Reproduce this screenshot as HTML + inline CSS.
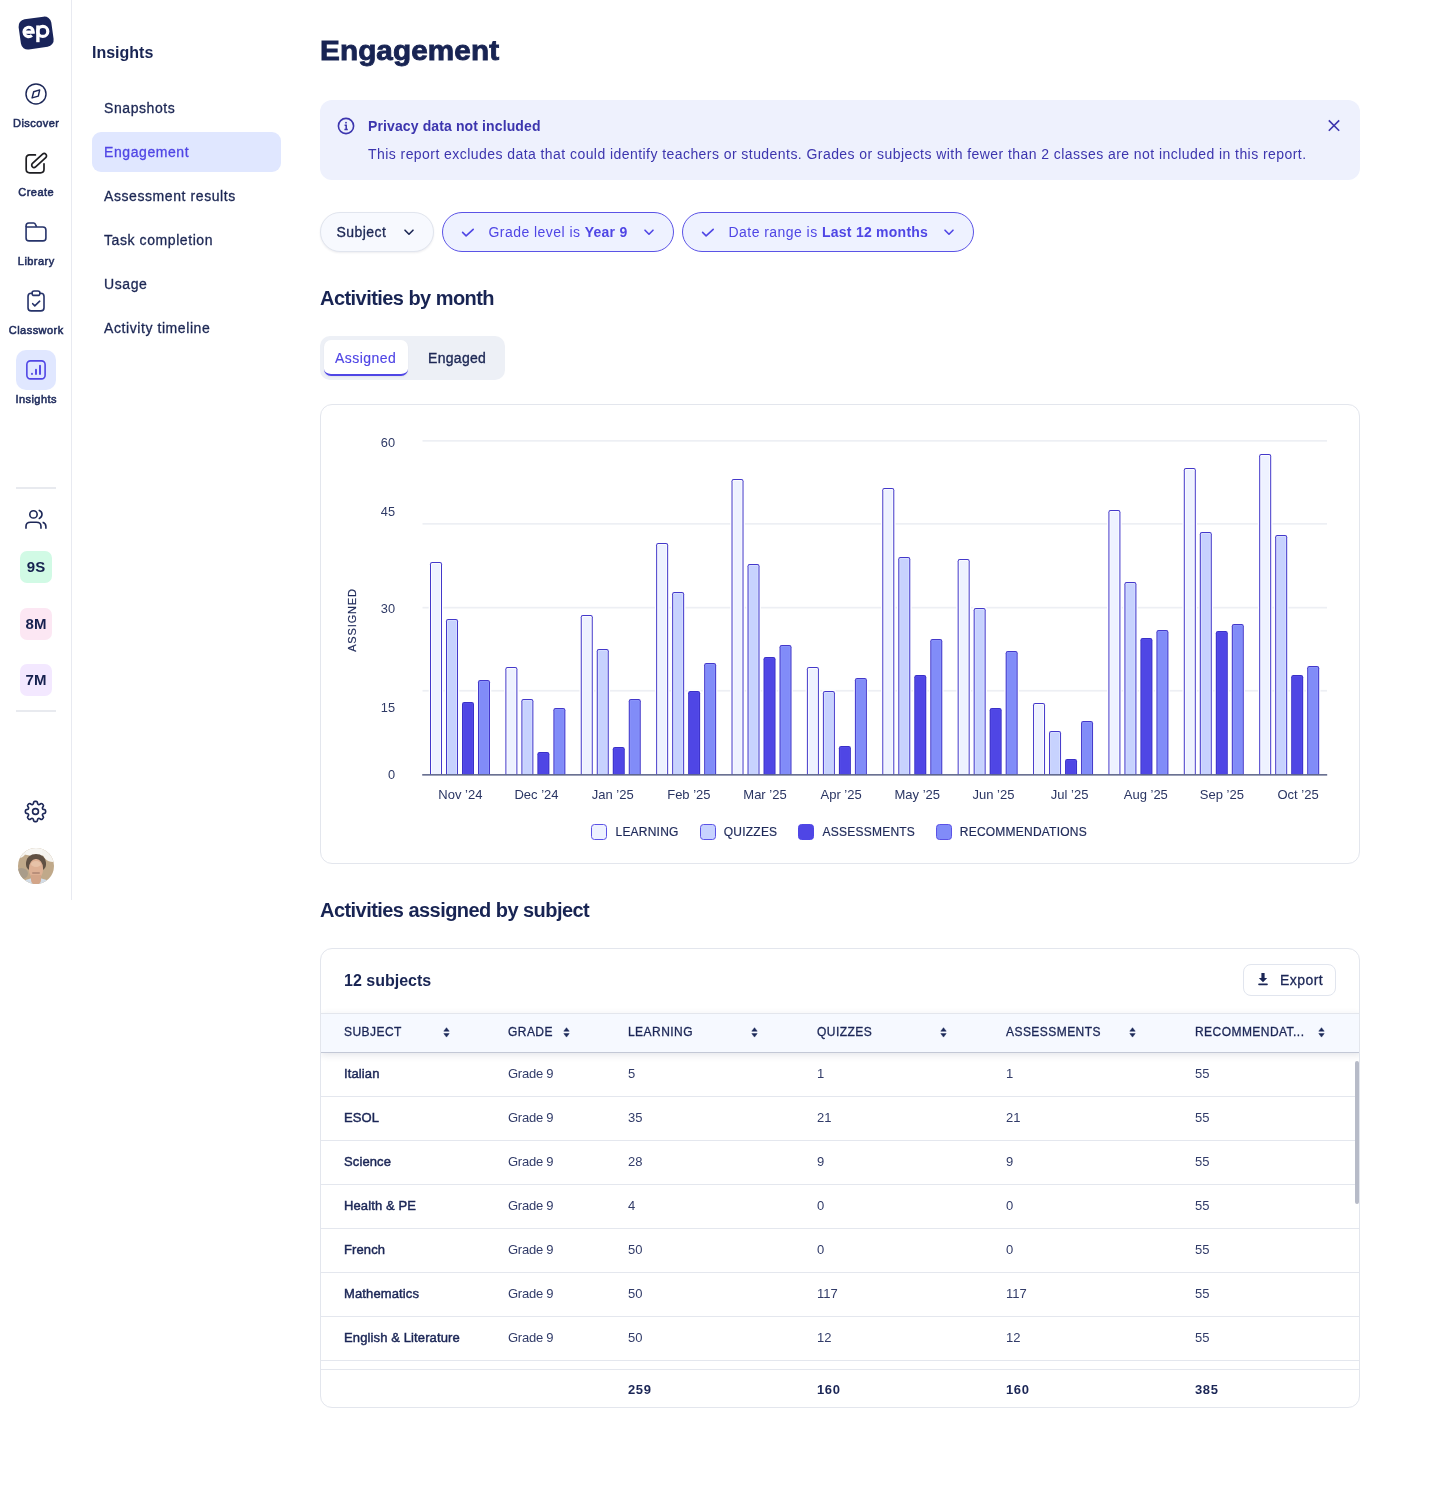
<!DOCTYPE html>
<html><head><meta charset="utf-8">
<style>
*{box-sizing:border-box;margin:0;padding:0}
html,body{width:1440px;height:1508px;background:#fff;overflow:hidden}
body{will-change:transform}
body{font-family:"Liberation Sans",sans-serif;color:#182453;position:relative}
.a{position:absolute}
.nl{position:absolute;left:0;width:72px;text-align:center;font-size:11px;letter-spacing:0.45px;text-indent:0.45px;color:#1f2b5c;line-height:14px;-webkit-text-stroke:0.55px #1f2b5c}
.sub{position:absolute;left:104px;font-size:14px;letter-spacing:0.58px;color:#1c2754;line-height:20px;-webkit-text-stroke:0.3px currentColor}
.h2{position:absolute;left:320px;font-size:20px;font-weight:700;letter-spacing:-0.55px;color:#182453;line-height:24px}
.pill{position:absolute;top:212px;height:40px;border-radius:20px;font-size:14px;letter-spacing:0.45px;line-height:38px;white-space:nowrap}
.pill b{letter-spacing:0.25px}
.yl{position:absolute;left:360px;width:35px;text-align:right;font-size:12.8px;color:#2f3a66;line-height:14px}
.xl{position:absolute;top:787.6px;width:80px;text-align:center;font-size:13px;color:#2a3563;line-height:14px}
.lg{position:absolute;top:824px;width:16px;height:16px;border-radius:3.5px;border:1px solid #5B52E6}
.lt{position:absolute;top:825px;font-size:12px;letter-spacing:0.22px;color:#1f2a5a;-webkit-text-stroke:0.2px #1f2a5a;line-height:14px}
.th{position:absolute;top:1025px;font-size:12px;letter-spacing:0.45px;color:#1b2656;-webkit-text-stroke:0.3px #1b2656;line-height:14px}
.td{font-size:13px;line-height:44px;color:#323c69;white-space:nowrap}
.td.b{color:#1b2656;letter-spacing:0.12px;-webkit-text-stroke:0.45px #1b2656}
.tf{position:absolute;top:1382.5px;font-size:13px;font-weight:700;letter-spacing:0.6px;color:#1b2656;line-height:14px}
</style></head><body>

<!-- ===== left nav ===== -->
<div class="a" style="left:71px;top:0;width:1px;height:900px;background:#E8EAF1"></div>
<!-- logo -->
<svg class="a" style="left:0;top:0" width="72" height="60" viewBox="0 0 72 60"><rect x="19.6" y="17.8" width="33" height="30.5" rx="7" fill="#19245A" transform="rotate(-8 36.1 33)"/><g fill="none" stroke="#fff"><path d="M24.1 32.1H33.3A4.7 4.7 0 1 0 31.9 35.3" stroke-width="3.1"/><path d="M24.5 32.1H33.2" stroke-width="2.2"/><circle cx="42.8" cy="31.4" r="5.0" stroke-width="3.2"/><path d="M37.9 25.4V42.2" stroke-width="3.4"/></g></svg>
<!-- discover -->
<svg class="a" style="left:24px;top:82px" width="24" height="24" viewBox="0 0 24 24" fill="none" stroke="#1c2757" stroke-width="1.45" stroke-linejoin="round"><circle cx="12" cy="11.9" r="10"/><path d="M9.7 9.7L15.7 7.9L14.3 14.1L8.1 15.9Z"/></svg>
<div class="nl" style="top:116px">Discover</div>
<!-- create -->
<svg class="a" style="left:24px;top:151px" width="24" height="24" viewBox="0 0 24 24" fill="none" stroke="#1e1e22" stroke-width="1.7" stroke-linecap="round" stroke-linejoin="round"><path d="M11.4 3.93H5.7Q2.18 3.93 2.18 7.4V18.3Q2.18 21.8 5.7 21.8H16.5Q20 21.8 20 18.3V12.8"/><rect x="-9.2" y="-2.34" width="18.4" height="4.68" rx="2.34" transform="translate(15.1 9.5) rotate(-42.5)"/></svg>
<div class="nl" style="top:185px">Create</div>
<!-- library -->
<svg class="a" style="left:24px;top:220px" width="24" height="24" viewBox="0 0 24 24" fill="none" stroke="#26336a" stroke-width="1.6" stroke-linejoin="round"><path d="M2.08 6.94V5.8Q2.08 3.06 4.8 3.06H9.6Q10.9 3.06 11.4 4.3L12.6 6.94"/><path d="M2.08 6.94H18.9Q21.9 6.94 21.9 9.94V17.9Q21.9 20.9 18.9 20.9H5.1Q2.08 20.9 2.08 17.9Z"/></svg>
<div class="nl" style="top:254px">Library</div>
<!-- classwork -->
<svg class="a" style="left:24px;top:289px" width="24" height="24" viewBox="0 0 24 24" fill="none" stroke="#26336a" stroke-width="1.6" stroke-linecap="round" stroke-linejoin="round"><path d="M8.1 4.2H7.2Q4.03 4.2 4.03 7.4V18.7Q4.03 21.9 7.2 21.9H16.8Q20 21.9 20 18.7V7.4Q20 4.2 16.8 4.2H15.9"/><rect x="8.1" y="2" width="7.8" height="4.4" rx="2"/><path d="M8.7 14.7L10.8 16.9L15.7 12.2"/></svg>
<div class="nl" style="top:323px">Classwork</div>
<!-- insights -->
<div class="a" style="left:16px;top:350px;width:40px;height:40px;border-radius:10px;background:#E0E7FF"></div>
<svg class="a" style="left:24px;top:358px" width="24" height="24" viewBox="0 0 24 24" fill="none" stroke="#5046E5" stroke-width="1.6" stroke-linecap="round"><rect x="2.86" y="2.86" width="18.24" height="18.04" rx="3.6"/><path d="M8 15.7V16M12 11.8V16M16 7.8V16" stroke-width="1.9"/></svg>
<div class="nl" style="top:392px">Insights</div>

<div class="a" style="left:16px;top:487px;width:40px;height:2px;background:#E8EAEF"></div>
<!-- users -->
<svg class="a" style="left:24px;top:507px" width="24" height="24" viewBox="0 0 24 24" fill="none" stroke="#1c2757" stroke-width="1.6" stroke-linecap="round"><circle cx="9.47" cy="7.38" r="3.67"/><path d="M1.99 21.7V19.3C1.99 17 3.9 15.3 6.6 15.3H12.4C15.1 15.3 16.96 17 16.96 19.3V21.7" stroke-linecap="butt"/><path d="M15.3 3.44C17 4.0 18.0 5.5 18.0 7.35C18.0 9.2 17 10.7 15.3 11.4"/><path d="M18.6 15.3C20.6 16.0 21.9 17.6 21.9 19.6V21.7" stroke-linecap="butt"/></svg>
<div class="a" style="left:20px;top:551px;width:32px;height:32px;border-radius:7px;background:#D1FAE5;font-size:15px;font-weight:700;line-height:32px;text-align:center;color:#16214f">9S</div>
<div class="a" style="left:20px;top:607.5px;width:32px;height:32px;border-radius:7px;background:#FCE7F3;font-size:15px;font-weight:700;line-height:32px;text-align:center;color:#16214f">8M</div>
<div class="a" style="left:20px;top:663.5px;width:32px;height:32px;border-radius:7px;background:#F3E8FF;font-size:15px;font-weight:700;line-height:32px;text-align:center;color:#16214f">7M</div>
<div class="a" style="left:16px;top:710px;width:40px;height:2px;background:#E8EAEF"></div>

<!-- gear -->
<svg class="a" style="left:22px;top:797.9px" width="27" height="27" viewBox="0 0 24 24" fill="none" stroke="#1c2757" stroke-width="1.45" stroke-linecap="round" stroke-linejoin="round"><path d="M10.343 3.94c.09-.542.56-.94 1.11-.94h1.093c.55 0 1.02.398 1.11.94l.149.894c.07.424.384.764.78.93.398.164.855.142 1.205-.108l.737-.527a1.125 1.125 0 0 1 1.45.12l.773.774c.39.389.44 1.002.12 1.45l-.527.737c-.25.35-.272.806-.107 1.204.165.397.505.71.93.78l.893.15c.543.09.94.559.94 1.109v1.094c0 .55-.397 1.02-.94 1.11l-.894.149c-.424.07-.764.383-.929.78-.165.398-.143.854.107 1.204l.527.738c.32.447.269 1.06-.12 1.45l-.774.773a1.125 1.125 0 0 1-1.449.12l-.738-.527c-.35-.25-.806-.272-1.203-.107-.398.165-.71.505-.781.929l-.149.894c-.09.542-.56.94-1.11.94h-1.094c-.55 0-1.019-.398-1.11-.94l-.148-.894c-.071-.424-.384-.764-.781-.93-.398-.164-.854-.142-1.204.108l-.738.527c-.447.32-1.06.269-1.45-.12l-.773-.774a1.125 1.125 0 0 1-.12-1.45l.527-.737c.25-.35.272-.806.108-1.204-.165-.397-.506-.71-.93-.78l-.894-.15c-.542-.09-.94-.56-.94-1.109v-1.094c0-.55.398-1.02.94-1.11l.894-.149c.424-.07.765-.383.93-.78.165-.398.143-.854-.108-1.204l-.526-.738a1.125 1.125 0 0 1 .12-1.45l.773-.773a1.125 1.125 0 0 1 1.45-.12l.737.527c.35.25.807.272 1.204.107.397-.165.71-.505.78-.929l.15-.894Z"/><path d="M14.6 12a2.6 2.6 0 1 1-5.2 0 2.6 2.6 0 0 1 5.2 0Z"/></svg>
<!-- avatar -->
<div class="a" style="left:18px;top:848px;width:36px;height:36px;border-radius:50%;overflow:hidden;background:#c0a98a"><div class="a" style="left:0;top:0;width:36px;height:36px;filter:blur(0.7px)">
 <div class="a" style="left:-6px;top:-16px;width:48px;height:24px;border-radius:50%;background:#f7f6f3"></div>
 <div class="a" style="left:24px;top:-8px;width:22px;height:22px;border-radius:50%;background:#f5f3ef"></div>
 <div class="a" style="left:-6px;top:-4px;width:14px;height:14px;border-radius:50%;background:#f5f3ef"></div>
 <div class="a" style="left:-3px;top:20px;width:13px;height:11px;border-radius:50%;background:#a99c8a"></div>
 <div class="a" style="left:8px;top:5.5px;width:20px;height:17px;border-radius:50% 50% 35% 35%;background:#5f5043"></div>
 <div class="a" style="left:10.5px;top:11px;width:14.5px;height:20px;border-radius:45% 45% 45% 45%;background:#ddb094"></div>
 <div class="a" style="left:12.5px;top:13px;width:10px;height:6px;border-radius:50%;background:#e6c2a8"></div>
 <div class="a" style="left:13.5px;top:24px;width:8px;height:1.6px;border-radius:1px;background:#b98f7a"></div>
 <div class="a" style="left:4px;top:30px;width:28px;height:12px;border-radius:50% 50% 0 0;background:#d2dce6"></div>
 <div class="a" style="left:12.5px;top:27px;width:10px;height:10px;border-radius:0 0 50% 50%;background:#d3a589"></div>
</div></div>

<!-- ===== sub nav ===== -->
<div class="a" style="left:92px;top:44px;font-size:16px;font-weight:700;color:#182453;line-height:18px">Insights</div>
<div class="a" style="left:92px;top:132px;width:189px;height:40px;border-radius:9px;background:#E0E7FF"></div>
<div class="sub" style="top:98px">Snapshots</div>
<div class="sub" style="top:142px;color:#5046E5">Engagement</div>
<div class="sub" style="top:186px">Assessment results</div>
<div class="sub" style="top:230px">Task completion</div>
<div class="sub" style="top:274px">Usage</div>
<div class="sub" style="top:318px">Activity timeline</div>

<!-- ===== main ===== -->
<div class="a" style="left:320px;top:35px;font-size:28px;font-weight:700;letter-spacing:0.1px;color:#182453;line-height:32px;-webkit-text-stroke:0.9px #182453;transform:scaleX(1.06);transform-origin:0 0">Engagement</div>

<!-- banner -->
<div class="a" style="left:320px;top:100px;width:1040px;height:80px;border-radius:12px;background:#EEF1FD"></div>
<svg class="a" style="left:336px;top:116px" width="20" height="20" viewBox="0 0 20 20" fill="none" stroke="#3C35AE" stroke-width="1.6"><circle cx="10" cy="10" r="7.6"/><path d="M8.6 9.2H10.2V13.6M8.4 13.6H11.8" stroke-width="1.5"/><circle cx="10" cy="6.7" r="0.9" fill="#3C35AE" stroke="none"/></svg>
<div class="a" style="left:368px;top:117px;font-size:14px;font-weight:700;letter-spacing:0.12px;color:#3C35AE;line-height:18px">Privacy data not included</div>
<div class="a" style="left:368px;top:145px;font-size:14px;letter-spacing:0.44px;color:#3C35AE;line-height:18px;white-space:nowrap">This report excludes data that could identify teachers or students. Grades or subjects with fewer than 2 classes are not included in this report.</div>
<svg class="a" style="left:1326px;top:118px" width="16" height="16" viewBox="0 0 16 16" stroke="#3C35AE" stroke-width="1.6"><path d="M2.8 2.4L13.2 12.8M13.2 2.4L2.8 12.8"/></svg>

<!-- pills -->
<div class="pill" style="left:320px;width:114px;border:1px solid #E1E5EE;background:#F7F9FE;box-shadow:0 1px 2px rgba(20,30,70,0.08);color:#1c2754;padding-left:15.5px;-webkit-text-stroke:0.3px #1c2754">Subject</div>
<svg class="a" style="left:402.5px;top:226px" width="12" height="12" viewBox="0 0 12 12" fill="none" stroke="#1c2754" stroke-width="1.6" stroke-linecap="round" stroke-linejoin="round"><path d="M2 4.2L6 8.2L10 4.2"/></svg>

<div class="pill" style="left:442px;width:232px;border:1px solid #5B53E6;background:#EEF2FF;color:#4F46E5;padding-left:45.5px">Grade level is <b>Year 9</b></div>
<svg class="a" style="left:460px;top:225px" width="16" height="16" viewBox="0 0 16 16" fill="none" stroke="#4F46E5" stroke-width="1.6" stroke-linecap="round" stroke-linejoin="round"><path d="M2.6 7.4L6.1 10.9L13.2 4.3"/></svg>
<svg class="a" style="left:642.5px;top:226px" width="12" height="12" viewBox="0 0 12 12" fill="none" stroke="#4F46E5" stroke-width="1.6" stroke-linecap="round" stroke-linejoin="round"><path d="M2 4.2L6 8.2L10 4.2"/></svg>

<div class="pill" style="left:682px;width:292px;border:1px solid #5B53E6;background:#EEF2FF;color:#4F46E5;padding-left:45.5px">Date range is <b>Last 12 months</b></div>
<svg class="a" style="left:700px;top:225px" width="16" height="16" viewBox="0 0 16 16" fill="none" stroke="#4F46E5" stroke-width="1.6" stroke-linecap="round" stroke-linejoin="round"><path d="M2.6 7.4L6.1 10.9L13.2 4.3"/></svg>
<svg class="a" style="left:942.5px;top:226px" width="12" height="12" viewBox="0 0 12 12" fill="none" stroke="#4F46E5" stroke-width="1.6" stroke-linecap="round" stroke-linejoin="round"><path d="M2 4.2L6 8.2L10 4.2"/></svg>

<!-- Activities by month -->
<div class="h2" style="top:286px">Activities by month</div>
<div class="a" style="left:320px;top:336px;width:185px;height:44px;border-radius:10px;background:#EDF0F6"></div>
<div class="a" style="left:324px;top:340px;width:84px;height:36px;border-radius:7px;background:#fff;border-bottom:2px solid #4F46E5;box-shadow:0 1px 2px rgba(20,30,70,0.06)"></div>
<div class="a" style="left:335px;top:349px;font-size:14px;letter-spacing:0.45px;color:#5046E5;line-height:18px;-webkit-text-stroke:0.15px #5046E5">Assigned</div>
<div class="a" style="left:428px;top:349px;font-size:14px;letter-spacing:0.3px;color:#1c2754;line-height:18px;-webkit-text-stroke:0.35px #1c2754">Engaged</div>

<!-- chart card -->
<div class="a" style="left:320px;top:404px;width:1040px;height:460px;border-radius:12px;border:1px solid #E3E6ED"></div>
<div class="yl" style="top:435.5px">60</div>
<div class="yl" style="top:505px">45</div>
<div class="yl" style="top:602px">30</div>
<div class="yl" style="top:700.5px">15</div>
<div class="yl" style="top:768px">0</div>
<div class="a" style="left:320px;top:613px;width:64px;height:14px;transform:rotate(-90deg);font-size:11px;letter-spacing:0.85px;color:#1f2a5a;-webkit-text-stroke:0.2px #1f2a5a;line-height:14px;text-align:center">ASSIGNED</div>
<svg class="a" style="left:0;top:0" width="1440" height="900" viewBox="0 0 1440 900"><rect x="422.5" y="440.0" width="904.5" height="1.7" fill="#EDEFF4"/><rect x="422.5" y="523.0" width="904.5" height="1.7" fill="#EDEFF4"/><rect x="422.5" y="606.8" width="904.5" height="1.7" fill="#EDEFF4"/><rect x="422.5" y="689.9" width="904.5" height="1.7" fill="#EDEFF4"/><rect x="428.70" y="561.00" width="14.6" height="212.60" rx="2" fill="#fff"/><path d="M430.00,774.6 V564.20 Q430.00,562.00 432.20,562.00 H439.80 Q442.00,562.00 442.00,564.20 V774.6 Z" fill="#4338CA"/><path d="M431.00,774.6 V564.20 Q431.00,563.00 432.20,563.00 H439.80 Q441.00,563.00 441.00,564.20 V774.6 Z" fill="#FBFCFF"/><rect x="432.00" y="564.00" width="8" height="210.60" fill="#EEF2FF"/><rect x="444.70" y="618.00" width="14.6" height="155.60" rx="2" fill="#fff"/><path d="M446.00,774.6 V621.20 Q446.00,619.00 448.20,619.00 H455.80 Q458.00,619.00 458.00,621.20 V774.6 Z" fill="#4338CA"/><path d="M447.00,774.6 V621.20 Q447.00,620.00 448.20,620.00 H455.80 Q457.00,620.00 457.00,621.20 V774.6 Z" fill="#D6DEFF"/><rect x="448.00" y="621.00" width="8" height="153.60" fill="#C7D2FE"/><rect x="460.70" y="701.00" width="14.6" height="72.60" rx="2" fill="#fff"/><path d="M462.00,774.6 V704.20 Q462.00,702.00 464.20,702.00 H471.80 Q474.00,702.00 474.00,704.20 V774.6 Z" fill="#3A30C8"/><path d="M463.00,774.6 V704.20 Q463.00,703.00 464.20,703.00 H471.80 Q473.00,703.00 473.00,704.20 V774.6 Z" fill="#544BE7"/><rect x="464.00" y="704.00" width="8" height="70.60" fill="#4F46E5"/><rect x="476.70" y="679.00" width="14.6" height="94.60" rx="2" fill="#fff"/><path d="M478.00,774.6 V682.20 Q478.00,680.00 480.20,680.00 H487.80 Q490.00,680.00 490.00,682.20 V774.6 Z" fill="#4338CA"/><path d="M479.00,774.6 V682.20 Q479.00,681.00 480.20,681.00 H487.80 Q489.00,681.00 489.00,682.20 V774.6 Z" fill="#8A94F9"/><rect x="480.00" y="682.00" width="8" height="92.60" fill="#818CF8"/><rect x="504.08" y="666.00" width="14.6" height="107.60" rx="2" fill="#fff"/><path d="M505.38,774.6 V669.20 Q505.38,667.00 507.58,667.00 H515.18 Q517.38,667.00 517.38,669.20 V774.6 Z" fill="#4338CA"/><path d="M506.38,774.6 V669.20 Q506.38,668.00 507.58,668.00 H515.18 Q516.38,668.00 516.38,669.20 V774.6 Z" fill="#FBFCFF"/><rect x="507.38" y="669.00" width="8" height="105.60" fill="#EEF2FF"/><rect x="520.08" y="698.00" width="14.6" height="75.60" rx="2" fill="#fff"/><path d="M521.38,774.6 V701.20 Q521.38,699.00 523.58,699.00 H531.18 Q533.38,699.00 533.38,701.20 V774.6 Z" fill="#4338CA"/><path d="M522.38,774.6 V701.20 Q522.38,700.00 523.58,700.00 H531.18 Q532.38,700.00 532.38,701.20 V774.6 Z" fill="#D6DEFF"/><rect x="523.38" y="701.00" width="8" height="73.60" fill="#C7D2FE"/><rect x="536.08" y="751.00" width="14.6" height="22.60" rx="2" fill="#fff"/><path d="M537.38,774.6 V754.20 Q537.38,752.00 539.58,752.00 H547.18 Q549.38,752.00 549.38,754.20 V774.6 Z" fill="#3A30C8"/><path d="M538.38,774.6 V754.20 Q538.38,753.00 539.58,753.00 H547.18 Q548.38,753.00 548.38,754.20 V774.6 Z" fill="#544BE7"/><rect x="539.38" y="754.00" width="8" height="20.60" fill="#4F46E5"/><rect x="552.08" y="707.00" width="14.6" height="66.60" rx="2" fill="#fff"/><path d="M553.38,774.6 V710.20 Q553.38,708.00 555.58,708.00 H563.18 Q565.38,708.00 565.38,710.20 V774.6 Z" fill="#4338CA"/><path d="M554.38,774.6 V710.20 Q554.38,709.00 555.58,709.00 H563.18 Q564.38,709.00 564.38,710.20 V774.6 Z" fill="#8A94F9"/><rect x="555.38" y="710.00" width="8" height="64.60" fill="#818CF8"/><rect x="579.46" y="614.00" width="14.6" height="159.60" rx="2" fill="#fff"/><path d="M580.76,774.6 V617.20 Q580.76,615.00 582.96,615.00 H590.56 Q592.76,615.00 592.76,617.20 V774.6 Z" fill="#4338CA"/><path d="M581.76,774.6 V617.20 Q581.76,616.00 582.96,616.00 H590.56 Q591.76,616.00 591.76,617.20 V774.6 Z" fill="#FBFCFF"/><rect x="582.76" y="617.00" width="8" height="157.60" fill="#EEF2FF"/><rect x="595.46" y="648.00" width="14.6" height="125.60" rx="2" fill="#fff"/><path d="M596.76,774.6 V651.20 Q596.76,649.00 598.96,649.00 H606.56 Q608.76,649.00 608.76,651.20 V774.6 Z" fill="#4338CA"/><path d="M597.76,774.6 V651.20 Q597.76,650.00 598.96,650.00 H606.56 Q607.76,650.00 607.76,651.20 V774.6 Z" fill="#D6DEFF"/><rect x="598.76" y="651.00" width="8" height="123.60" fill="#C7D2FE"/><rect x="611.46" y="746.00" width="14.6" height="27.60" rx="2" fill="#fff"/><path d="M612.76,774.6 V749.20 Q612.76,747.00 614.96,747.00 H622.56 Q624.76,747.00 624.76,749.20 V774.6 Z" fill="#3A30C8"/><path d="M613.76,774.6 V749.20 Q613.76,748.00 614.96,748.00 H622.56 Q623.76,748.00 623.76,749.20 V774.6 Z" fill="#544BE7"/><rect x="614.76" y="749.00" width="8" height="25.60" fill="#4F46E5"/><rect x="627.46" y="698.00" width="14.6" height="75.60" rx="2" fill="#fff"/><path d="M628.76,774.6 V701.20 Q628.76,699.00 630.96,699.00 H638.56 Q640.76,699.00 640.76,701.20 V774.6 Z" fill="#4338CA"/><path d="M629.76,774.6 V701.20 Q629.76,700.00 630.96,700.00 H638.56 Q639.76,700.00 639.76,701.20 V774.6 Z" fill="#8A94F9"/><rect x="630.76" y="701.00" width="8" height="73.60" fill="#818CF8"/><rect x="654.84" y="542.00" width="14.6" height="231.60" rx="2" fill="#fff"/><path d="M656.14,774.6 V545.20 Q656.14,543.00 658.34,543.00 H665.94 Q668.14,543.00 668.14,545.20 V774.6 Z" fill="#4338CA"/><path d="M657.14,774.6 V545.20 Q657.14,544.00 658.34,544.00 H665.94 Q667.14,544.00 667.14,545.20 V774.6 Z" fill="#FBFCFF"/><rect x="658.14" y="545.00" width="8" height="229.60" fill="#EEF2FF"/><rect x="670.84" y="591.00" width="14.6" height="182.60" rx="2" fill="#fff"/><path d="M672.14,774.6 V594.20 Q672.14,592.00 674.34,592.00 H681.94 Q684.14,592.00 684.14,594.20 V774.6 Z" fill="#4338CA"/><path d="M673.14,774.6 V594.20 Q673.14,593.00 674.34,593.00 H681.94 Q683.14,593.00 683.14,594.20 V774.6 Z" fill="#D6DEFF"/><rect x="674.14" y="594.00" width="8" height="180.60" fill="#C7D2FE"/><rect x="686.84" y="690.00" width="14.6" height="83.60" rx="2" fill="#fff"/><path d="M688.14,774.6 V693.20 Q688.14,691.00 690.34,691.00 H697.94 Q700.14,691.00 700.14,693.20 V774.6 Z" fill="#3A30C8"/><path d="M689.14,774.6 V693.20 Q689.14,692.00 690.34,692.00 H697.94 Q699.14,692.00 699.14,693.20 V774.6 Z" fill="#544BE7"/><rect x="690.14" y="693.00" width="8" height="81.60" fill="#4F46E5"/><rect x="702.84" y="662.00" width="14.6" height="111.60" rx="2" fill="#fff"/><path d="M704.14,774.6 V665.20 Q704.14,663.00 706.34,663.00 H713.94 Q716.14,663.00 716.14,665.20 V774.6 Z" fill="#4338CA"/><path d="M705.14,774.6 V665.20 Q705.14,664.00 706.34,664.00 H713.94 Q715.14,664.00 715.14,665.20 V774.6 Z" fill="#8A94F9"/><rect x="706.14" y="665.00" width="8" height="109.60" fill="#818CF8"/><rect x="730.22" y="478.00" width="14.6" height="295.60" rx="2" fill="#fff"/><path d="M731.52,774.6 V481.20 Q731.52,479.00 733.72,479.00 H741.32 Q743.52,479.00 743.52,481.20 V774.6 Z" fill="#4338CA"/><path d="M732.52,774.6 V481.20 Q732.52,480.00 733.72,480.00 H741.32 Q742.52,480.00 742.52,481.20 V774.6 Z" fill="#FBFCFF"/><rect x="733.52" y="481.00" width="8" height="293.60" fill="#EEF2FF"/><rect x="746.22" y="563.00" width="14.6" height="210.60" rx="2" fill="#fff"/><path d="M747.52,774.6 V566.20 Q747.52,564.00 749.72,564.00 H757.32 Q759.52,564.00 759.52,566.20 V774.6 Z" fill="#4338CA"/><path d="M748.52,774.6 V566.20 Q748.52,565.00 749.72,565.00 H757.32 Q758.52,565.00 758.52,566.20 V774.6 Z" fill="#D6DEFF"/><rect x="749.52" y="566.00" width="8" height="208.60" fill="#C7D2FE"/><rect x="762.22" y="656.00" width="14.6" height="117.60" rx="2" fill="#fff"/><path d="M763.52,774.6 V659.20 Q763.52,657.00 765.72,657.00 H773.32 Q775.52,657.00 775.52,659.20 V774.6 Z" fill="#3A30C8"/><path d="M764.52,774.6 V659.20 Q764.52,658.00 765.72,658.00 H773.32 Q774.52,658.00 774.52,659.20 V774.6 Z" fill="#544BE7"/><rect x="765.52" y="659.00" width="8" height="115.60" fill="#4F46E5"/><rect x="778.22" y="644.00" width="14.6" height="129.60" rx="2" fill="#fff"/><path d="M779.52,774.6 V647.20 Q779.52,645.00 781.72,645.00 H789.32 Q791.52,645.00 791.52,647.20 V774.6 Z" fill="#4338CA"/><path d="M780.52,774.6 V647.20 Q780.52,646.00 781.72,646.00 H789.32 Q790.52,646.00 790.52,647.20 V774.6 Z" fill="#8A94F9"/><rect x="781.52" y="647.00" width="8" height="127.60" fill="#818CF8"/><rect x="805.60" y="666.00" width="14.6" height="107.60" rx="2" fill="#fff"/><path d="M806.90,774.6 V669.20 Q806.90,667.00 809.10,667.00 H816.70 Q818.90,667.00 818.90,669.20 V774.6 Z" fill="#4338CA"/><path d="M807.90,774.6 V669.20 Q807.90,668.00 809.10,668.00 H816.70 Q817.90,668.00 817.90,669.20 V774.6 Z" fill="#FBFCFF"/><rect x="808.90" y="669.00" width="8" height="105.60" fill="#EEF2FF"/><rect x="821.60" y="690.00" width="14.6" height="83.60" rx="2" fill="#fff"/><path d="M822.90,774.6 V693.20 Q822.90,691.00 825.10,691.00 H832.70 Q834.90,691.00 834.90,693.20 V774.6 Z" fill="#4338CA"/><path d="M823.90,774.6 V693.20 Q823.90,692.00 825.10,692.00 H832.70 Q833.90,692.00 833.90,693.20 V774.6 Z" fill="#D6DEFF"/><rect x="824.90" y="693.00" width="8" height="81.60" fill="#C7D2FE"/><rect x="837.60" y="745.00" width="14.6" height="28.60" rx="2" fill="#fff"/><path d="M838.90,774.6 V748.20 Q838.90,746.00 841.10,746.00 H848.70 Q850.90,746.00 850.90,748.20 V774.6 Z" fill="#3A30C8"/><path d="M839.90,774.6 V748.20 Q839.90,747.00 841.10,747.00 H848.70 Q849.90,747.00 849.90,748.20 V774.6 Z" fill="#544BE7"/><rect x="840.90" y="748.00" width="8" height="26.60" fill="#4F46E5"/><rect x="853.60" y="677.00" width="14.6" height="96.60" rx="2" fill="#fff"/><path d="M854.90,774.6 V680.20 Q854.90,678.00 857.10,678.00 H864.70 Q866.90,678.00 866.90,680.20 V774.6 Z" fill="#4338CA"/><path d="M855.90,774.6 V680.20 Q855.90,679.00 857.10,679.00 H864.70 Q865.90,679.00 865.90,680.20 V774.6 Z" fill="#8A94F9"/><rect x="856.90" y="680.00" width="8" height="94.60" fill="#818CF8"/><rect x="880.98" y="487.00" width="14.6" height="286.60" rx="2" fill="#fff"/><path d="M882.28,774.6 V490.20 Q882.28,488.00 884.48,488.00 H892.08 Q894.28,488.00 894.28,490.20 V774.6 Z" fill="#4338CA"/><path d="M883.28,774.6 V490.20 Q883.28,489.00 884.48,489.00 H892.08 Q893.28,489.00 893.28,490.20 V774.6 Z" fill="#FBFCFF"/><rect x="884.28" y="490.00" width="8" height="284.60" fill="#EEF2FF"/><rect x="896.98" y="556.00" width="14.6" height="217.60" rx="2" fill="#fff"/><path d="M898.28,774.6 V559.20 Q898.28,557.00 900.48,557.00 H908.08 Q910.28,557.00 910.28,559.20 V774.6 Z" fill="#4338CA"/><path d="M899.28,774.6 V559.20 Q899.28,558.00 900.48,558.00 H908.08 Q909.28,558.00 909.28,559.20 V774.6 Z" fill="#D6DEFF"/><rect x="900.28" y="559.00" width="8" height="215.60" fill="#C7D2FE"/><rect x="912.98" y="674.00" width="14.6" height="99.60" rx="2" fill="#fff"/><path d="M914.28,774.6 V677.20 Q914.28,675.00 916.48,675.00 H924.08 Q926.28,675.00 926.28,677.20 V774.6 Z" fill="#3A30C8"/><path d="M915.28,774.6 V677.20 Q915.28,676.00 916.48,676.00 H924.08 Q925.28,676.00 925.28,677.20 V774.6 Z" fill="#544BE7"/><rect x="916.28" y="677.00" width="8" height="97.60" fill="#4F46E5"/><rect x="928.98" y="638.00" width="14.6" height="135.60" rx="2" fill="#fff"/><path d="M930.28,774.6 V641.20 Q930.28,639.00 932.48,639.00 H940.08 Q942.28,639.00 942.28,641.20 V774.6 Z" fill="#4338CA"/><path d="M931.28,774.6 V641.20 Q931.28,640.00 932.48,640.00 H940.08 Q941.28,640.00 941.28,641.20 V774.6 Z" fill="#8A94F9"/><rect x="932.28" y="641.00" width="8" height="133.60" fill="#818CF8"/><rect x="956.36" y="558.00" width="14.6" height="215.60" rx="2" fill="#fff"/><path d="M957.66,774.6 V561.20 Q957.66,559.00 959.86,559.00 H967.46 Q969.66,559.00 969.66,561.20 V774.6 Z" fill="#4338CA"/><path d="M958.66,774.6 V561.20 Q958.66,560.00 959.86,560.00 H967.46 Q968.66,560.00 968.66,561.20 V774.6 Z" fill="#FBFCFF"/><rect x="959.66" y="561.00" width="8" height="213.60" fill="#EEF2FF"/><rect x="972.36" y="607.00" width="14.6" height="166.60" rx="2" fill="#fff"/><path d="M973.66,774.6 V610.20 Q973.66,608.00 975.86,608.00 H983.46 Q985.66,608.00 985.66,610.20 V774.6 Z" fill="#4338CA"/><path d="M974.66,774.6 V610.20 Q974.66,609.00 975.86,609.00 H983.46 Q984.66,609.00 984.66,610.20 V774.6 Z" fill="#D6DEFF"/><rect x="975.66" y="610.00" width="8" height="164.60" fill="#C7D2FE"/><rect x="988.36" y="707.00" width="14.6" height="66.60" rx="2" fill="#fff"/><path d="M989.66,774.6 V710.20 Q989.66,708.00 991.86,708.00 H999.46 Q1001.66,708.00 1001.66,710.20 V774.6 Z" fill="#3A30C8"/><path d="M990.66,774.6 V710.20 Q990.66,709.00 991.86,709.00 H999.46 Q1000.66,709.00 1000.66,710.20 V774.6 Z" fill="#544BE7"/><rect x="991.66" y="710.00" width="8" height="64.60" fill="#4F46E5"/><rect x="1004.36" y="650.00" width="14.6" height="123.60" rx="2" fill="#fff"/><path d="M1005.66,774.6 V653.20 Q1005.66,651.00 1007.86,651.00 H1015.46 Q1017.66,651.00 1017.66,653.20 V774.6 Z" fill="#4338CA"/><path d="M1006.66,774.6 V653.20 Q1006.66,652.00 1007.86,652.00 H1015.46 Q1016.66,652.00 1016.66,653.20 V774.6 Z" fill="#8A94F9"/><rect x="1007.66" y="653.00" width="8" height="121.60" fill="#818CF8"/><rect x="1031.74" y="702.00" width="14.6" height="71.60" rx="2" fill="#fff"/><path d="M1033.04,774.6 V705.20 Q1033.04,703.00 1035.24,703.00 H1042.84 Q1045.04,703.00 1045.04,705.20 V774.6 Z" fill="#4338CA"/><path d="M1034.04,774.6 V705.20 Q1034.04,704.00 1035.24,704.00 H1042.84 Q1044.04,704.00 1044.04,705.20 V774.6 Z" fill="#FBFCFF"/><rect x="1035.04" y="705.00" width="8" height="69.60" fill="#EEF2FF"/><rect x="1047.74" y="730.00" width="14.6" height="43.60" rx="2" fill="#fff"/><path d="M1049.04,774.6 V733.20 Q1049.04,731.00 1051.24,731.00 H1058.84 Q1061.04,731.00 1061.04,733.20 V774.6 Z" fill="#4338CA"/><path d="M1050.04,774.6 V733.20 Q1050.04,732.00 1051.24,732.00 H1058.84 Q1060.04,732.00 1060.04,733.20 V774.6 Z" fill="#D6DEFF"/><rect x="1051.04" y="733.00" width="8" height="41.60" fill="#C7D2FE"/><rect x="1063.74" y="758.00" width="14.6" height="15.60" rx="2" fill="#fff"/><path d="M1065.04,774.6 V761.20 Q1065.04,759.00 1067.24,759.00 H1074.84 Q1077.04,759.00 1077.04,761.20 V774.6 Z" fill="#3A30C8"/><path d="M1066.04,774.6 V761.20 Q1066.04,760.00 1067.24,760.00 H1074.84 Q1076.04,760.00 1076.04,761.20 V774.6 Z" fill="#544BE7"/><rect x="1067.04" y="761.00" width="8" height="13.60" fill="#4F46E5"/><rect x="1079.74" y="720.00" width="14.6" height="53.60" rx="2" fill="#fff"/><path d="M1081.04,774.6 V723.20 Q1081.04,721.00 1083.24,721.00 H1090.84 Q1093.04,721.00 1093.04,723.20 V774.6 Z" fill="#4338CA"/><path d="M1082.04,774.6 V723.20 Q1082.04,722.00 1083.24,722.00 H1090.84 Q1092.04,722.00 1092.04,723.20 V774.6 Z" fill="#8A94F9"/><rect x="1083.04" y="723.00" width="8" height="51.60" fill="#818CF8"/><rect x="1107.12" y="509.00" width="14.6" height="264.60" rx="2" fill="#fff"/><path d="M1108.42,774.6 V512.20 Q1108.42,510.00 1110.62,510.00 H1118.22 Q1120.42,510.00 1120.42,512.20 V774.6 Z" fill="#4338CA"/><path d="M1109.42,774.6 V512.20 Q1109.42,511.00 1110.62,511.00 H1118.22 Q1119.42,511.00 1119.42,512.20 V774.6 Z" fill="#FBFCFF"/><rect x="1110.42" y="512.00" width="8" height="262.60" fill="#EEF2FF"/><rect x="1123.12" y="581.00" width="14.6" height="192.60" rx="2" fill="#fff"/><path d="M1124.42,774.6 V584.20 Q1124.42,582.00 1126.62,582.00 H1134.22 Q1136.42,582.00 1136.42,584.20 V774.6 Z" fill="#4338CA"/><path d="M1125.42,774.6 V584.20 Q1125.42,583.00 1126.62,583.00 H1134.22 Q1135.42,583.00 1135.42,584.20 V774.6 Z" fill="#D6DEFF"/><rect x="1126.42" y="584.00" width="8" height="190.60" fill="#C7D2FE"/><rect x="1139.12" y="637.00" width="14.6" height="136.60" rx="2" fill="#fff"/><path d="M1140.42,774.6 V640.20 Q1140.42,638.00 1142.62,638.00 H1150.22 Q1152.42,638.00 1152.42,640.20 V774.6 Z" fill="#3A30C8"/><path d="M1141.42,774.6 V640.20 Q1141.42,639.00 1142.62,639.00 H1150.22 Q1151.42,639.00 1151.42,640.20 V774.6 Z" fill="#544BE7"/><rect x="1142.42" y="640.00" width="8" height="134.60" fill="#4F46E5"/><rect x="1155.12" y="629.00" width="14.6" height="144.60" rx="2" fill="#fff"/><path d="M1156.42,774.6 V632.20 Q1156.42,630.00 1158.62,630.00 H1166.22 Q1168.42,630.00 1168.42,632.20 V774.6 Z" fill="#4338CA"/><path d="M1157.42,774.6 V632.20 Q1157.42,631.00 1158.62,631.00 H1166.22 Q1167.42,631.00 1167.42,632.20 V774.6 Z" fill="#8A94F9"/><rect x="1158.42" y="632.00" width="8" height="142.60" fill="#818CF8"/><rect x="1182.50" y="467.00" width="14.6" height="306.60" rx="2" fill="#fff"/><path d="M1183.80,774.6 V470.20 Q1183.80,468.00 1186.00,468.00 H1193.60 Q1195.80,468.00 1195.80,470.20 V774.6 Z" fill="#4338CA"/><path d="M1184.80,774.6 V470.20 Q1184.80,469.00 1186.00,469.00 H1193.60 Q1194.80,469.00 1194.80,470.20 V774.6 Z" fill="#FBFCFF"/><rect x="1185.80" y="470.00" width="8" height="304.60" fill="#EEF2FF"/><rect x="1198.50" y="531.00" width="14.6" height="242.60" rx="2" fill="#fff"/><path d="M1199.80,774.6 V534.20 Q1199.80,532.00 1202.00,532.00 H1209.60 Q1211.80,532.00 1211.80,534.20 V774.6 Z" fill="#4338CA"/><path d="M1200.80,774.6 V534.20 Q1200.80,533.00 1202.00,533.00 H1209.60 Q1210.80,533.00 1210.80,534.20 V774.6 Z" fill="#D6DEFF"/><rect x="1201.80" y="534.00" width="8" height="240.60" fill="#C7D2FE"/><rect x="1214.50" y="630.00" width="14.6" height="143.60" rx="2" fill="#fff"/><path d="M1215.80,774.6 V633.20 Q1215.80,631.00 1218.00,631.00 H1225.60 Q1227.80,631.00 1227.80,633.20 V774.6 Z" fill="#3A30C8"/><path d="M1216.80,774.6 V633.20 Q1216.80,632.00 1218.00,632.00 H1225.60 Q1226.80,632.00 1226.80,633.20 V774.6 Z" fill="#544BE7"/><rect x="1217.80" y="633.00" width="8" height="141.60" fill="#4F46E5"/><rect x="1230.50" y="623.00" width="14.6" height="150.60" rx="2" fill="#fff"/><path d="M1231.80,774.6 V626.20 Q1231.80,624.00 1234.00,624.00 H1241.60 Q1243.80,624.00 1243.80,626.20 V774.6 Z" fill="#4338CA"/><path d="M1232.80,774.6 V626.20 Q1232.80,625.00 1234.00,625.00 H1241.60 Q1242.80,625.00 1242.80,626.20 V774.6 Z" fill="#8A94F9"/><rect x="1233.80" y="626.00" width="8" height="148.60" fill="#818CF8"/><rect x="1257.88" y="453.00" width="14.6" height="320.60" rx="2" fill="#fff"/><path d="M1259.18,774.6 V456.20 Q1259.18,454.00 1261.38,454.00 H1268.98 Q1271.18,454.00 1271.18,456.20 V774.6 Z" fill="#4338CA"/><path d="M1260.18,774.6 V456.20 Q1260.18,455.00 1261.38,455.00 H1268.98 Q1270.18,455.00 1270.18,456.20 V774.6 Z" fill="#FBFCFF"/><rect x="1261.18" y="456.00" width="8" height="318.60" fill="#EEF2FF"/><rect x="1273.88" y="534.00" width="14.6" height="239.60" rx="2" fill="#fff"/><path d="M1275.18,774.6 V537.20 Q1275.18,535.00 1277.38,535.00 H1284.98 Q1287.18,535.00 1287.18,537.20 V774.6 Z" fill="#4338CA"/><path d="M1276.18,774.6 V537.20 Q1276.18,536.00 1277.38,536.00 H1284.98 Q1286.18,536.00 1286.18,537.20 V774.6 Z" fill="#D6DEFF"/><rect x="1277.18" y="537.00" width="8" height="237.60" fill="#C7D2FE"/><rect x="1289.88" y="674.00" width="14.6" height="99.60" rx="2" fill="#fff"/><path d="M1291.18,774.6 V677.20 Q1291.18,675.00 1293.38,675.00 H1300.98 Q1303.18,675.00 1303.18,677.20 V774.6 Z" fill="#3A30C8"/><path d="M1292.18,774.6 V677.20 Q1292.18,676.00 1293.38,676.00 H1300.98 Q1302.18,676.00 1302.18,677.20 V774.6 Z" fill="#544BE7"/><rect x="1293.18" y="677.00" width="8" height="97.60" fill="#4F46E5"/><rect x="1305.88" y="665.00" width="14.6" height="108.60" rx="2" fill="#fff"/><path d="M1307.18,774.6 V668.20 Q1307.18,666.00 1309.38,666.00 H1316.98 Q1319.18,666.00 1319.18,668.20 V774.6 Z" fill="#4338CA"/><path d="M1308.18,774.6 V668.20 Q1308.18,667.00 1309.38,667.00 H1316.98 Q1318.18,667.00 1318.18,668.20 V774.6 Z" fill="#8A94F9"/><rect x="1309.18" y="668.00" width="8" height="106.60" fill="#818CF8"/><rect x="422.2" y="774.1" width="905" height="1.5" fill="#5A6286"/></svg><div class="a xl" style="left:420.4px">Nov ’24</div><div class="a xl" style="left:496.5px">Dec ’24</div><div class="a xl" style="left:572.7px">Jan ’25</div><div class="a xl" style="left:648.9px">Feb ’25</div><div class="a xl" style="left:725.0px">Mar ’25</div><div class="a xl" style="left:801.1px">Apr ’25</div><div class="a xl" style="left:877.3px">May ’25</div><div class="a xl" style="left:953.5px">Jun ’25</div><div class="a xl" style="left:1029.6px">Jul ’25</div><div class="a xl" style="left:1105.8px">Aug ’25</div><div class="a xl" style="left:1181.9px">Sep ’25</div><div class="a xl" style="left:1258.1px">Oct ’25</div>
<!-- legend -->
<div class="lg" style="left:591.3px;background:#EEF2FF"></div><div class="lt" style="left:615.5px">LEARNING</div>
<div class="lg" style="left:699.6px;background:#C7D2FE"></div><div class="lt" style="left:723.8px">QUIZZES</div>
<div class="lg" style="left:798.4px;background:#4F46E5;border-color:#4F46E5"></div><div class="lt" style="left:822.6px">ASSESSMENTS</div>
<div class="lg" style="left:935.6px;background:#818CF8"></div><div class="lt" style="left:959.8px">RECOMMENDATIONS</div>

<!-- Activities assigned by subject -->
<div class="h2" style="top:898px">Activities assigned by subject</div>
<div class="a" style="left:320px;top:948px;width:1040px;height:460px;border-radius:12px;border:1px solid #E3E6ED;overflow:hidden">
  <div class="a" style="left:0;top:64px;width:1040px;height:40px;background:#F6F9FF;border-top:1px solid #E3E6ED;border-bottom:1px solid #C3C8D6;box-shadow:0 2px 7px rgba(30,40,80,0.12)"></div>
  <div class="a" style="left:0;top:419.5px;width:1040px;height:1px;background:#E4E7EE"></div>
</div>
<div class="a" style="left:344px;top:972px;font-size:16px;font-weight:700;color:#182453;line-height:18px">12 subjects</div>
<div class="a" style="left:1243px;top:964px;width:93px;height:32px;border-radius:8px;border:1px solid #E1E5EE"></div>
<svg class="a" style="left:1256px;top:971.4px" width="14" height="16" viewBox="0 0 14 16"><path d="M5.4 2H8.6V7H11.2L7 11.2L2.8 7H5.4Z" fill="#1b2656"/><rect x="2.2" y="12.6" width="9.6" height="1.6" rx="0.8" fill="#1b2656"/></svg>
<div class="a" style="left:1280px;top:971px;font-size:14px;letter-spacing:0.45px;color:#1b2656;line-height:18px;-webkit-text-stroke:0.3px #1b2656">Export</div>

<div class="th" style="left:344px">SUBJECT</div>
<div class="th" style="left:508px">GRADE</div>
<div class="th" style="left:628px">LEARNING</div>
<div class="th" style="left:817px">QUIZZES</div>
<div class="th" style="left:1006px">ASSESSMENTS</div>
<div class="th" style="left:1195px">RECOMMENDAT...</div>
<svg class="a" width="7" height="11" viewBox="0 0 7 11" style="left:442.5px;top:1026.5px"><path d="M3.5 0.7L6.2 4.2H0.8Z M3.5 10.1L6.2 6.6H0.8Z" fill="#1d2a5a" stroke="#1d2a5a" stroke-width="0.5" stroke-linejoin="round"/></svg><svg class="a" width="7" height="11" viewBox="0 0 7 11" style="left:562.5px;top:1026.5px"><path d="M3.5 0.7L6.2 4.2H0.8Z M3.5 10.1L6.2 6.6H0.8Z" fill="#1d2a5a" stroke="#1d2a5a" stroke-width="0.5" stroke-linejoin="round"/></svg><svg class="a" width="7" height="11" viewBox="0 0 7 11" style="left:751px;top:1026.5px"><path d="M3.5 0.7L6.2 4.2H0.8Z M3.5 10.1L6.2 6.6H0.8Z" fill="#1d2a5a" stroke="#1d2a5a" stroke-width="0.5" stroke-linejoin="round"/></svg><svg class="a" width="7" height="11" viewBox="0 0 7 11" style="left:940px;top:1026.5px"><path d="M3.5 0.7L6.2 4.2H0.8Z M3.5 10.1L6.2 6.6H0.8Z" fill="#1d2a5a" stroke="#1d2a5a" stroke-width="0.5" stroke-linejoin="round"/></svg><svg class="a" width="7" height="11" viewBox="0 0 7 11" style="left:1129px;top:1026.5px"><path d="M3.5 0.7L6.2 4.2H0.8Z M3.5 10.1L6.2 6.6H0.8Z" fill="#1d2a5a" stroke="#1d2a5a" stroke-width="0.5" stroke-linejoin="round"/></svg><svg class="a" width="7" height="11" viewBox="0 0 7 11" style="left:1318px;top:1026.5px"><path d="M3.5 0.7L6.2 4.2H0.8Z M3.5 10.1L6.2 6.6H0.8Z" fill="#1d2a5a" stroke="#1d2a5a" stroke-width="0.5" stroke-linejoin="round"/></svg>
<div class="a" style="left:320px;top:1052px;width:1040px;height:320px;overflow:hidden"></div>
<div class="a td b" style="left:344px;top:1052.4px">Italian</div><div class="a td" style="left:508px;top:1052.4px;letter-spacing:-0.25px">Grade 9</div><div class="a td" style="left:628px;top:1052.4px">5</div><div class="a td" style="left:817px;top:1052.4px">1</div><div class="a td" style="left:1006px;top:1052.4px">1</div><div class="a td" style="left:1195px;top:1052.4px">55</div><div class="a" style="left:321px;top:1095.9px;width:1038px;height:1px;background:#E4E7EE"></div><div class="a td b" style="left:344px;top:1096.4px">ESOL</div><div class="a td" style="left:508px;top:1096.4px;letter-spacing:-0.25px">Grade 9</div><div class="a td" style="left:628px;top:1096.4px">35</div><div class="a td" style="left:817px;top:1096.4px">21</div><div class="a td" style="left:1006px;top:1096.4px">21</div><div class="a td" style="left:1195px;top:1096.4px">55</div><div class="a" style="left:321px;top:1139.9px;width:1038px;height:1px;background:#E4E7EE"></div><div class="a td b" style="left:344px;top:1140.4px">Science</div><div class="a td" style="left:508px;top:1140.4px;letter-spacing:-0.25px">Grade 9</div><div class="a td" style="left:628px;top:1140.4px">28</div><div class="a td" style="left:817px;top:1140.4px">9</div><div class="a td" style="left:1006px;top:1140.4px">9</div><div class="a td" style="left:1195px;top:1140.4px">55</div><div class="a" style="left:321px;top:1183.9px;width:1038px;height:1px;background:#E4E7EE"></div><div class="a td b" style="left:344px;top:1184.4px">Health &amp; PE</div><div class="a td" style="left:508px;top:1184.4px;letter-spacing:-0.25px">Grade 9</div><div class="a td" style="left:628px;top:1184.4px">4</div><div class="a td" style="left:817px;top:1184.4px">0</div><div class="a td" style="left:1006px;top:1184.4px">0</div><div class="a td" style="left:1195px;top:1184.4px">55</div><div class="a" style="left:321px;top:1227.9px;width:1038px;height:1px;background:#E4E7EE"></div><div class="a td b" style="left:344px;top:1228.4px">French</div><div class="a td" style="left:508px;top:1228.4px;letter-spacing:-0.25px">Grade 9</div><div class="a td" style="left:628px;top:1228.4px">50</div><div class="a td" style="left:817px;top:1228.4px">0</div><div class="a td" style="left:1006px;top:1228.4px">0</div><div class="a td" style="left:1195px;top:1228.4px">55</div><div class="a" style="left:321px;top:1271.9px;width:1038px;height:1px;background:#E4E7EE"></div><div class="a td b" style="left:344px;top:1272.4px">Mathematics</div><div class="a td" style="left:508px;top:1272.4px;letter-spacing:-0.25px">Grade 9</div><div class="a td" style="left:628px;top:1272.4px">50</div><div class="a td" style="left:817px;top:1272.4px">117</div><div class="a td" style="left:1006px;top:1272.4px">117</div><div class="a td" style="left:1195px;top:1272.4px">55</div><div class="a" style="left:321px;top:1315.9px;width:1038px;height:1px;background:#E4E7EE"></div><div class="a td b" style="left:344px;top:1316.4px">English &amp; Literature</div><div class="a td" style="left:508px;top:1316.4px;letter-spacing:-0.25px">Grade 9</div><div class="a td" style="left:628px;top:1316.4px">50</div><div class="a td" style="left:817px;top:1316.4px">12</div><div class="a td" style="left:1006px;top:1316.4px">12</div><div class="a td" style="left:1195px;top:1316.4px">55</div><div class="a" style="left:321px;top:1359.9px;width:1038px;height:1px;background:#E4E7EE"></div>
<div class="a" style="left:1355px;top:1061.3px;width:4px;height:142.6px;border-radius:2px;background:#B7BBC8"></div>
<div class="tf" style="left:628px">259</div>
<div class="tf" style="left:817px">160</div>
<div class="tf" style="left:1006px">160</div>
<div class="tf" style="left:1195px">385</div>

</body></html>
